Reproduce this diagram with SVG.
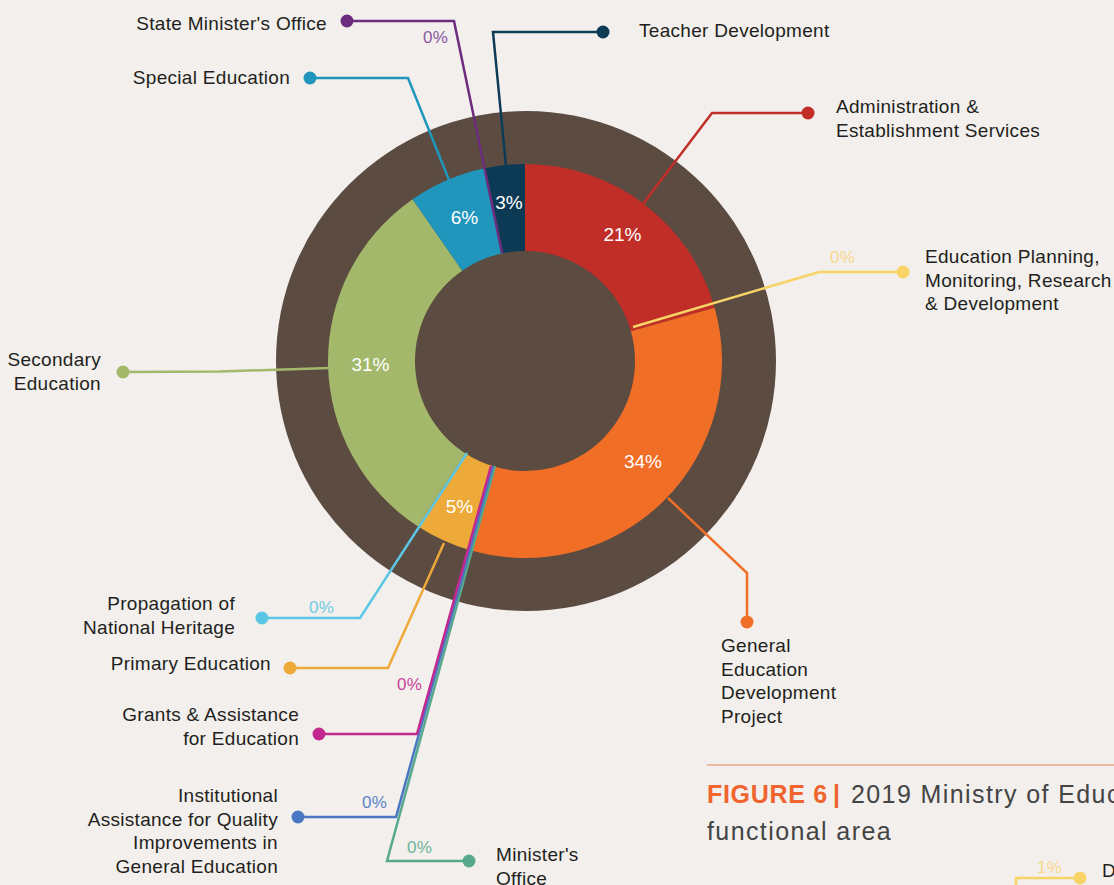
<svg xmlns="http://www.w3.org/2000/svg" width="1114" height="885" viewBox="0 0 1114 885">
<style>
  .lbl { font-family: "Liberation Sans", Arial, sans-serif; font-size: 19px; letter-spacing: 0.3px; fill: #231f20; }
  .end { text-anchor: end; }
  .pct { font-family: "Liberation Sans", Arial, sans-serif; font-size: 17px; letter-spacing: 0.3px; }
  .val { font-family: "Liberation Sans", Arial, sans-serif; font-size: 19px; fill: #ffffff; text-anchor: middle; }
  .ln { fill: none; stroke-width: 2.5; stroke-linejoin: miter; }
  .cap { font-family: "Liberation Sans", Arial, sans-serif; font-size: 25px; }
</style>
<rect x="0" y="0" width="1114" height="885" fill="#f2efec"/>

<g id="chart">
  <circle cx="526" cy="361" r="250" fill="#5b4b41"/>
  <path id="seg-admin" d="M525,164 A197,197 0 0 1 714.65,307.69 L630.9,331.23 A110,110 0 0 0 525,251 Z" fill="#c12e28"/>
  <path id="seg-gedp" d="M714.65,307.69 A197,197 0 0 1 469.70,550.08 L494.12,466.58 A110,110 0 0 0 630.9,331.23 Z" fill="#f06e25"/>
  <path id="seg-primary" d="M469.70,550.08 A197,197 0 0 1 417.71,526.22 L465.09,453.26 A110,110 0 0 0 494.12,466.58 Z" fill="#eeaa38"/>
  <path id="seg-secondary" d="M417.71,526.22 A197,197 0 0 1 412.57,199.24 L462.22,270.68 A110,110 0 0 0 465.09,453.26 Z" fill="#a3b86b"/>
  <path id="seg-special" d="M412.57,199.24 A197,197 0 0 1 484.71,168.16 L502.50,253.32 A110,110 0 0 0 462.22,270.68 Z" fill="#2196bd"/>
  <path id="seg-teacher" d="M484.71,168.16 A197,197 0 0 1 525,164 L525,251 A110,110 0 0 0 502.50,253.32 Z" fill="#0c3a55"/>
  <text class="val" x="509" y="209">3%</text>
  <text class="val" x="464.5" y="224">6%</text>
  <text class="val" x="622.5" y="241">21%</text>
  <text class="val" x="370.5" y="371">31%</text>
  <text class="val" x="643" y="467.5">34%</text>
  <text class="val" x="459.5" y="513">5%</text>
</g>

<g id="connectors">
  <polyline class="ln" stroke="#6d2c7d" points="502,253 454,21 347,21"/>
  <circle cx="347" cy="21" r="6.5" fill="#6d2c7d"/>
  <polyline class="ln" stroke="#2196bd" points="449,180 408,78 310,78"/>
  <circle cx="310" cy="78" r="6.5" fill="#2196bd"/>
  <polyline class="ln" stroke="#0d3b56" points="506,166 493,32 603,32"/>
  <circle cx="603" cy="32" r="6.5" fill="#0d3b56"/>
  <polyline class="ln" stroke="#c12e28" points="643,204 712,113 808,113"/>
  <circle cx="808" cy="113" r="6.5" fill="#c12e28"/>
  <polyline class="ln" stroke="#f8d466" points="633,327 819,272 903,272"/>
  <circle cx="903" cy="272" r="6.5" fill="#f8d466"/>
  <polyline class="ln" stroke="#f06e25" points="668,498 747,573 747,622"/>
  <circle cx="747" cy="622" r="6.5" fill="#f06e25"/>
  <polyline class="ln" stroke="#a3b86b" points="329,368 220,371.5 123,372"/>
  <circle cx="123" cy="372" r="6.5" fill="#a3b86b"/>
  <polyline class="ln" stroke="#5bc7e4" points="467,453 360,618 262,618"/>
  <circle cx="262" cy="618" r="6.5" fill="#5bc7e4"/>
  <polyline class="ln" stroke="#eeaa38" points="444,543 388,668 290,668"/>
  <circle cx="290" cy="668" r="6.5" fill="#eeaa38"/>
  <polyline class="ln" stroke="#57a88c" points="495,466 387,861 469,861"/>
  <circle cx="469" cy="861" r="6.5" fill="#57a88c"/>
  <polyline class="ln" stroke="#4977c1" points="493,466 396,817 298,817"/>
  <circle cx="298" cy="817" r="6.5" fill="#4977c1"/>
  <polyline class="ln" stroke="#c2288f" points="491,466 417,734 319,734"/>
  <circle cx="319" cy="734" r="6.5" fill="#c2288f"/>
  <polyline class="ln" stroke="#f8d466" points="1016,890 1016,878 1080,878"/>
  <circle cx="1080" cy="878" r="6.5" fill="#f8d466"/>
</g>

<g id="node-state-minister">
  <text class="lbl end" x="327" y="30">State Minister's Office</text>
  <text class="pct" x="423" y="43" fill="#8c57a0">0%</text>
</g>
<g id="node-special">
  <text class="lbl end" x="290" y="84">Special Education</text>
</g>
<g id="node-teacher">
  <text class="lbl" x="639" y="36.5">Teacher Development</text>
</g>
<g id="node-admin">
  <text class="lbl" x="836" y="113">Administration &amp;</text>
  <text class="lbl" x="836" y="136.5">Establishment Services</text>
</g>
<g id="node-planning">
  <text class="pct" x="830" y="263" fill="#f9d98c">0%</text>
  <text class="lbl" x="925" y="263">Education Planning,</text>
  <text class="lbl" x="925" y="286.5">Monitoring, Research</text>
  <text class="lbl" x="925" y="310">&amp; Development</text>
</g>
<g id="node-gedp">
  <text class="lbl" x="721" y="652">General</text>
  <text class="lbl" x="721" y="675.5">Education</text>
  <text class="lbl" x="721" y="699">Development</text>
  <text class="lbl" x="721" y="722.5">Project</text>
</g>
<g id="node-secondary">
  <text class="lbl end" x="101" y="366">Secondary</text>
  <text class="lbl end" x="101" y="389.5">Education</text>
</g>
<g id="node-propagation">
  <text class="lbl end" x="235" y="610">Propagation of</text>
  <text class="lbl end" x="235" y="634">National Heritage</text>
  <text class="pct" x="309" y="613" fill="#6fcbe6">0%</text>
</g>
<g id="node-primary">
  <text class="lbl end" x="271" y="670">Primary Education</text>
</g>
<g id="node-grants">
  <text class="pct" x="397" y="690" fill="#c9439c">0%</text>
  <text class="lbl end" x="299" y="721">Grants &amp; Assistance</text>
  <text class="lbl end" x="299" y="745">for Education</text>
</g>
<g id="node-institutional">
  <text class="lbl end" x="278" y="802">Institutional</text>
  <text class="lbl end" x="278" y="825.5">Assistance for Quality</text>
  <text class="lbl end" x="278" y="849">Improvements in</text>
  <text class="lbl end" x="278" y="872.5">General Education</text>
  <text class="pct" x="362" y="808" fill="#5a84c8">0%</text>
</g>
<g id="node-minister">
  <text class="pct" x="407" y="853" fill="#6fb59b">0%</text>
  <text class="lbl" x="496" y="861">Minister's</text>
  <text class="lbl" x="496" y="884.5">Office</text>
</g>

<g id="caption">
  <line x1="707" y1="765" x2="1114" y2="765" stroke="#f0875a" stroke-width="1.2"/>
  <text class="cap" x="707" y="803"><tspan fill="#f0652f" font-weight="bold" letter-spacing="0.7">FIGURE 6</tspan><tspan x="833" fill="#f0652f" font-weight="bold">|</tspan><tspan x="851" fill="#444444" letter-spacing="1.4">2019 Ministry of Educ</tspan></text>
  <text class="cap" x="707" y="840" fill="#444444" letter-spacing="1.4">functional area</text>
  <text class="pct" x="1037" y="873" fill="#f9d98c">1%</text>
  <text class="lbl" x="1102" y="877">D</text>
</g>
</svg>
